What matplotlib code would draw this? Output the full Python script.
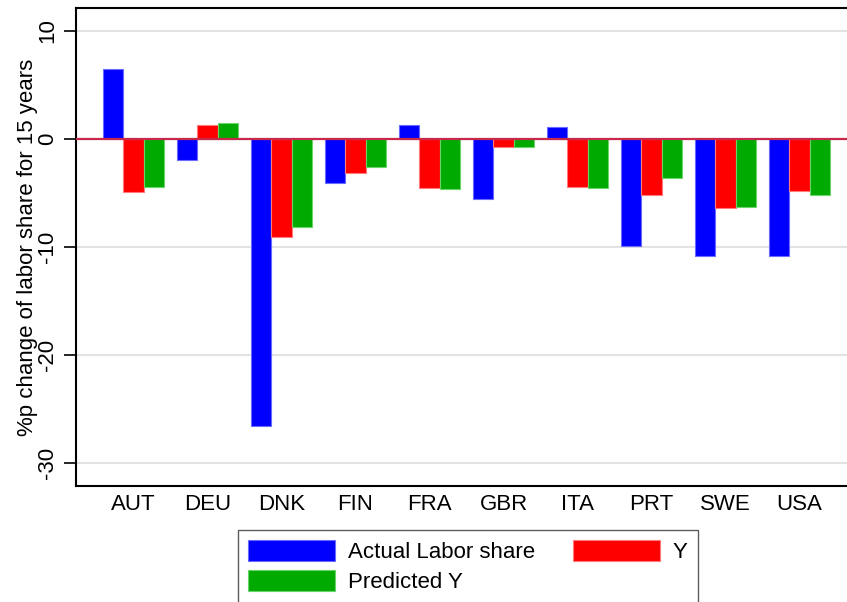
import numpy as np
import matplotlib
matplotlib.use("Agg")
import matplotlib.pyplot as plt

# data
countries = ["AUT", "DEU", "DNK", "FIN", "FRA", "GBR", "ITA", "PRT", "SWE", "USA"]
actual_share = [6.45, -1.97, -26.6, -4.04, 1.3, -5.58, 1.08, -9.88, -10.8, -10.8]
y_val = [-4.88, 1.3, -9.1, -3.15, -4.57, -0.77, -4.44, -5.15, -6.39, -4.84]
predicted_y = [-4.44, 1.51, -8.18, -2.56, -4.63, -0.74, -4.5, -3.64, -6.27, -5.15]
yticks = [10, 0, -10, -20, -30]

plt.rcParams["font.family"] = ["Liberation Sans", "DejaVu Sans"]

fig = plt.figure(figsize=(8.47, 6.02), dpi=100)
ax = fig.add_axes([76 / 847, 1 - 486 / 602, (857 - 76) / 847, (486 - 8) / 602])

x = np.arange(len(countries))
w = 0.277
b1 = ax.bar(x - w, actual_share, w, color="#0000FF", edgecolor="#6a6aff", linewidth=0.8,
            label="Actual Labor share", zorder=3)
b2 = ax.bar(x, y_val, w, color="#FF0000", edgecolor="#ff7a7a", linewidth=0.8,
            label="Y", zorder=3)
b3 = ax.bar(x + w, predicted_y, w, color="#00AA00", edgecolor="#6ad46a", linewidth=0.8,
            label="Predicted Y", zorder=3)

ax.axhline(0, color="#c8284a", linewidth=1.6, zorder=4)

ax.set_xlim(-0.777, 9.777)
ax.set_ylim(-32.13, 12.13)
ax.set_xticks(x)
ax.set_xticklabels(countries, fontsize=16)
ax.tick_params(axis="x", length=0, pad=6)
ax.set_yticks(yticks)
ax.set_yticklabels([str(t) for t in yticks], fontsize=16, rotation=90, va="center")
ax.tick_params(axis="y", length=9, width=1.2, pad=4)
ax.yaxis.grid(True, color="#e3e3e3", linewidth=1.5, zorder=0)
ax.set_axisbelow(True)
for s in ax.spines.values():
    s.set_linewidth(1.5)
ax.set_ylabel("%p change of labor share for 15 years", fontsize=16, labelpad=-1)

fig.legend(handles=[b1, b3, b2], labels=["Actual Labor share", "Predicted Y", "Y"],
           ncol=2, loc="upper left", bbox_to_anchor=(238 / 847, 1 - 530 / 602),
           fontsize=16, frameon=True, fancybox=False, edgecolor="#333333",
           handlelength=3.9, handleheight=1.05, handletextpad=0.6,
           columnspacing=1.7, borderpad=0.45, labelspacing=0.32, borderaxespad=0)

fig.savefig("out.png", dpi=100)
